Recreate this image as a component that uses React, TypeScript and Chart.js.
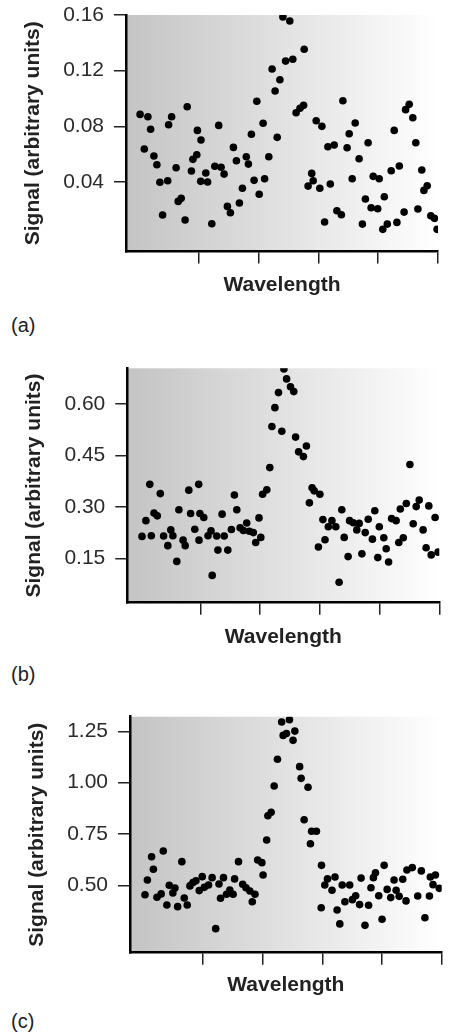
import React, { useEffect, useRef } from "react";
import { Chart, registerables } from "chart.js";

Chart.register(...registerables);

const FONT = "'Liberation Sans', Arial, Helvetica, sans-serif";

// Shared wavelength tick positions (unlabelled)
const wavelengthTicks = [24.4, 44.3, 64.3, 84, 104];

// Panel (a)
const wavelengthA = [4.7, 6.1, 7.3, 8.2, 9.3, 10.3, 11.3, 12.2, 13.9, 14.2, 15.2, 16.7, 17.4, 18.4, 19.7, 20.4, 21.8, 22.3, 23.6, 23.8, 24.9, 25.0, 26.6, 27.2, 28.6, 29.6, 30.9, 31.7, 32.7, 33.8, 34.8, 35.8, 36.8, 37.8, 38.8, 40.1, 40.8, 41.8, 42.7, 43.6, 44.4, 45.7, 46.2, 47.6, 48.7, 49.7, 50.4, 51.3, 52.3, 53.2, 54.6, 55.6, 56.7, 58.0, 59.2, 59.4, 60.7, 61.9, 62.4, 63.4, 64.6, 65.3, 66.2, 67.3, 68.1, 69.4, 70.3, 71.8, 72.3, 73.7, 74.4, 75.4, 76.4, 77.7, 78.8, 79.8, 80.7, 81.7, 82.4, 83.9, 84.4, 85.6, 86.1, 87.1, 88.4, 89.4, 90.3, 91.1, 92.7, 93.2, 94.4, 95.6, 96.6, 97.3, 98.6, 99.3, 100.4, 101.6, 102.8, 103.7];
const signalA = [0.0886, 0.0637, 0.0869, 0.0779, 0.0587, 0.0524, 0.0398, 0.0163, 0.0409, 0.0812, 0.0869, 0.0503, 0.0261, 0.0283, 0.0127, 0.0941, 0.0479, 0.0563, 0.0596, 0.0771, 0.0405, 0.0702, 0.0465, 0.0400, 0.0100, 0.0513, 0.0807, 0.0506, 0.0457, 0.0225, 0.0179, 0.0649, 0.0553, 0.0249, 0.0355, 0.0582, 0.0529, 0.0743, 0.0412, 0.0980, 0.0312, 0.0822, 0.0424, 0.0582, 0.1212, 0.1054, 0.0721, 0.1135, 0.1586, 0.1269, 0.1557, 0.1282, 0.0898, 0.0930, 0.0951, 0.1354, 0.0371, 0.0462, 0.0409, 0.0840, 0.0355, 0.0800, 0.0113, 0.0654, 0.0386, 0.0666, 0.0194, 0.0165, 0.0984, 0.0646, 0.0747, 0.0424, 0.0824, 0.0567, 0.0098, 0.0278, 0.0682, 0.0215, 0.0441, 0.0208, 0.0424, 0.0060, 0.0294, 0.0098, 0.0481, 0.0771, 0.0110, 0.0515, 0.0184, 0.0920, 0.0958, 0.0862, 0.0682, 0.0206, 0.0486, 0.0340, 0.0373, 0.0158, 0.0139, 0.0060];
const signalTicksA = [0.04, 0.08, 0.12, 0.16];

// Panel (b)
const wavelengthB = [4.9, 6.2, 7.5, 8.0, 8.9, 10.0, 11.0, 12.1, 13.5, 14.5, 15.2, 16.5, 17.2, 18.6, 19.3, 20.5, 21.1, 22.5, 23.8, 23.9, 24.2, 25.5, 26.9, 27.9, 28.3, 29.8, 30.2, 31.6, 32.3, 33.5, 34.7, 35.7, 36.5, 37.6, 38.7, 39.8, 40.7, 42.0, 42.8, 43.9, 44.5, 45.1, 46.5, 47.5, 48.2, 49.2, 50.4, 51.5, 52.2, 53.1, 54.4, 55.5, 56.1, 57.1, 58.7, 59.7, 60.7, 61.6, 62.3, 63.7, 64.2, 65.2, 65.9, 67.0, 68.2, 69.5, 70.6, 71.5, 72.3, 73.6, 74.1, 75.3, 76.5, 77.3, 78.2, 79.3, 80.3, 81.7, 82.5, 83.5, 84.0, 85.5, 86.3, 87.1, 88.1, 89.6, 90.5, 91.0, 92.0, 93.0, 94.2, 95.3, 96.3, 97.3, 98.6, 99.6, 100.5, 101.3, 102.6, 103.6];
const signalB = [0.214, 0.260, 0.366, 0.216, 0.282, 0.274, 0.339, 0.215, 0.187, 0.233, 0.216, 0.141, 0.292, 0.203, 0.187, 0.349, 0.281, 0.235, 0.366, 0.203, 0.281, 0.269, 0.216, 0.230, 0.100, 0.215, 0.174, 0.279, 0.215, 0.174, 0.234, 0.335, 0.292, 0.239, 0.231, 0.253, 0.229, 0.225, 0.196, 0.268, 0.211, 0.337, 0.350, 0.415, 0.535, 0.590, 0.634, 0.521, 0.703, 0.674, 0.651, 0.637, 0.504, 0.461, 0.447, 0.478, 0.312, 0.356, 0.347, 0.183, 0.337, 0.263, 0.204, 0.242, 0.260, 0.242, 0.080, 0.292, 0.211, 0.155, 0.260, 0.254, 0.233, 0.252, 0.163, 0.225, 0.264, 0.206, 0.289, 0.152, 0.242, 0.210, 0.178, 0.139, 0.266, 0.260, 0.196, 0.294, 0.210, 0.310, 0.424, 0.251, 0.301, 0.320, 0.233, 0.181, 0.303, 0.160, 0.269, 0.168];
const signalTicksB = [0.15, 0.3, 0.45, 0.6];

// Panel (c)
const wavelengthC = [5.0, 5.8, 7.2, 7.8, 9.0, 10.4, 11.1, 12.3, 13.1, 14.3, 15.0, 15.9, 17.3, 18.1, 19.1, 20.0, 21.0, 22.0, 23.1, 24.1, 24.8, 26.2, 27.4, 28.6, 29.7, 30.2, 31.2, 32.2, 33.3, 34.4, 34.9, 36.2, 37.6, 38.7, 40.0, 40.8, 41.7, 42.6, 44.0, 44.4, 45.6, 46.0, 47.1, 48.1, 49.2, 50.6, 51.1, 52.2, 53.2, 54.4, 55.0, 56.6, 57.1, 58.1, 59.4, 60.2, 60.6, 62.2, 63.8, 63.9, 65.0, 65.9, 67.4, 68.4, 69.1, 70.0, 70.8, 71.7, 73.3, 74.2, 75.3, 76.6, 77.1, 78.4, 79.6, 80.4, 81.2, 81.9, 83.0, 84.1, 84.8, 85.8, 87.0, 88.1, 88.8, 89.8, 91.0, 92.1, 92.4, 94.2, 96.0, 97.2, 98.4, 99.9, 100.2, 101.1, 101.9, 103.2];
const signalC = [0.455, 0.527, 0.640, 0.579, 0.443, 0.459, 0.668, 0.405, 0.501, 0.464, 0.488, 0.397, 0.616, 0.439, 0.405, 0.498, 0.514, 0.523, 0.475, 0.543, 0.491, 0.502, 0.538, 0.290, 0.507, 0.438, 0.538, 0.457, 0.478, 0.457, 0.532, 0.616, 0.506, 0.489, 0.473, 0.421, 0.457, 0.624, 0.611, 0.551, 0.721, 0.839, 0.856, 0.984, 1.114, 1.295, 1.230, 1.239, 1.306, 1.206, 1.251, 1.078, 1.021, 0.820, 0.978, 0.703, 0.764, 0.764, 0.392, 0.598, 0.502, 0.532, 0.477, 0.541, 0.381, 0.313, 0.502, 0.421, 0.502, 0.431, 0.450, 0.407, 0.536, 0.306, 0.404, 0.489, 0.538, 0.562, 0.450, 0.336, 0.598, 0.481, 0.441, 0.527, 0.477, 0.447, 0.530, 0.425, 0.575, 0.587, 0.449, 0.571, 0.343, 0.449, 0.541, 0.504, 0.551, 0.486];
const signalTicksC = [0.5, 0.75, 1.0, 1.25];

const CANVAS_W = 452;
const CANVAS_H = 310;

type PanelCfg = {
  label: string;
  xs: number[];
  ys: number[];
  yTicks: number[];
  yMin: number;
  yMax: number;
  top: number;
  areaTop: number;
  areaBottom: number;
  areaLeft: number;
  areaRight: number;
  yTitleCenter: number;
  xTitleCenter: number;
  labelTop: number;
};

const panels: PanelCfg[] = [
  { label: "(a)", xs: wavelengthA, ys: signalA, yTicks: signalTicksA, yMin: -0.0099, yMax: 0.16, top: 0, areaTop: 15, areaBottom: 251.5, areaLeft: 126, areaRight: 438, yTitleCenter: 33, xTitleCenter: 285, labelTop: 315 },
  { label: "(b)", xs: wavelengthB, ys: signalB, yTicks: signalTicksB, yMin: 0.0203, yMax: 0.705, top: 350, areaTop: 368.3, areaBottom: 602.7, areaLeft: 127.3, areaRight: 439.3, yTitleCenter: 34.3, xTitleCenter: 637.3, labelTop: 664 },
  { label: "(c)", xs: wavelengthC, ys: signalC, yTicks: signalTicksC, yMin: 0.173, yMax: 1.321, top: 700, areaTop: 716.7, areaBottom: 952.7, areaLeft: 130, areaRight: 441.7, yTitleCenter: 37, xTitleCenter: 985.5, labelTop: 1011 },
];

const gradientBg = {
  id: "gradientBg",
  beforeDraw(chart: any) {
    const { ctx, chartArea } = chart;
    if (!chartArea) return;
    const { left, top, right, bottom } = chartArea;
    const g = ctx.createLinearGradient(left, 0, right, 0);
    g.addColorStop(0, "#c4c4c4");
    g.addColorStop(1, "#ffffff");
    ctx.save();
    ctx.fillStyle = g;
    ctx.fillRect(left, top, right - left, bottom - top);
    ctx.restore();
  },
};

function Panel({ cfg }: { cfg: PanelCfg }) {
  const ref = useRef<HTMLCanvasElement | null>(null);
  useEffect(() => {
    if (!ref.current) return;
    const titleHalf = 21 * 1.2 / 2;
    const chart = new Chart(ref.current, {
      type: "scatter",
      data: {
        datasets: [
          {
            data: cfg.xs.map((x, i) => ({ x, y: cfg.ys[i] })),
            backgroundColor: "#000",
            borderWidth: 0,
            pointRadius: 3.8,
            pointHoverRadius: 3.8,
          },
        ],
      },
      options: {
        responsive: false,
        animation: false,
        events: [],
        layout: {
          padding: {
            top: cfg.areaTop - cfg.top,
            right: CANVAS_W - cfg.areaRight,
            left: 0,
            bottom: 0,
          },
        },
        plugins: {
          legend: { display: false },
          tooltip: { enabled: false },
        },
        scales: {
          x: {
            type: "linear",
            min: 0,
            max: 104,
            afterBuildTicks: (s: any) => {
              s.ticks = wavelengthTicks.map((v) => ({ value: v }));
            },
            afterFit: (s: any) => {
              s.height = CANVAS_H - (cfg.areaBottom - cfg.top);
              s.paddingLeft = 0;
              s.paddingRight = 0;
            },
            ticks: { display: false, autoSkip: false },
            grid: {
              display: true,
              drawOnChartArea: false,
              drawTicks: true,
              tickLength: 12,
              color: "#222",
              lineWidth: 1.5,
            },
            border: { display: true, color: "#000", width: 2.5 },
            title: {
              display: true,
              text: "Wavelength",
              color: "#222",
              font: { family: FONT, size: 21, weight: "bold", lineHeight: 1.2 },
              padding: { top: 0, bottom: CANVAS_H - (cfg.xTitleCenter - cfg.top) - titleHalf },
            },
          },
          y: {
            type: "linear",
            min: cfg.yMin,
            max: cfg.yMax,
            afterBuildTicks: (s: any) => {
              s.ticks = cfg.yTicks.map((v) => ({ value: v }));
            },
            afterFit: (s: any) => {
              s.width = cfg.areaLeft;
              s.paddingTop = 0;
              s.paddingBottom = 0;
            },
            ticks: {
              autoSkip: false,
              padding: 10,
              color: "#2a2a2a",
              font: { family: FONT, size: 21 },
              callback: (v: any) => Number(v).toFixed(2),
            },
            grid: {
              display: true,
              drawOnChartArea: false,
              drawTicks: true,
              tickLength: 12,
              color: "#222",
              lineWidth: 1.5,
            },
            border: { display: true, color: "#000", width: 2.5 },
            title: {
              display: true,
              text: "Signal (arbitrary units)",
              color: "#222",
              font: { family: FONT, size: 21, weight: "bold", lineHeight: 1.2 },
              padding: { top: cfg.yTitleCenter - titleHalf, bottom: 0 },
            },
          },
        },
      },
      plugins: [gradientBg],
    } as any);
    return () => chart.destroy();
  }, [cfg]);

  return (
    <>
      <canvas
        ref={ref}
        width={CANVAS_W}
        height={CANVAS_H}
        style={{ position: "absolute", left: 0, top: cfg.top, width: CANVAS_W, height: CANVAS_H }}
      />
      <div
        style={{
          position: "absolute",
          left: 11,
          top: cfg.labelTop,
          fontFamily: FONT,
          fontSize: 20,
          lineHeight: "20px",
          color: "#222",
        }}
      >
        {cfg.label}
      </div>
    </>
  );
}

export default function App() {
  return (
    <div
      style={{
        position: "absolute",
        left: 0,
        top: 0,
        width: CANVAS_W,
        height: 1034,
        overflow: "hidden",
        background: "#fff",
      }}
    >
      {panels.map((p) => (
        <Panel key={p.label} cfg={p} />
      ))}
    </div>
  );
}
